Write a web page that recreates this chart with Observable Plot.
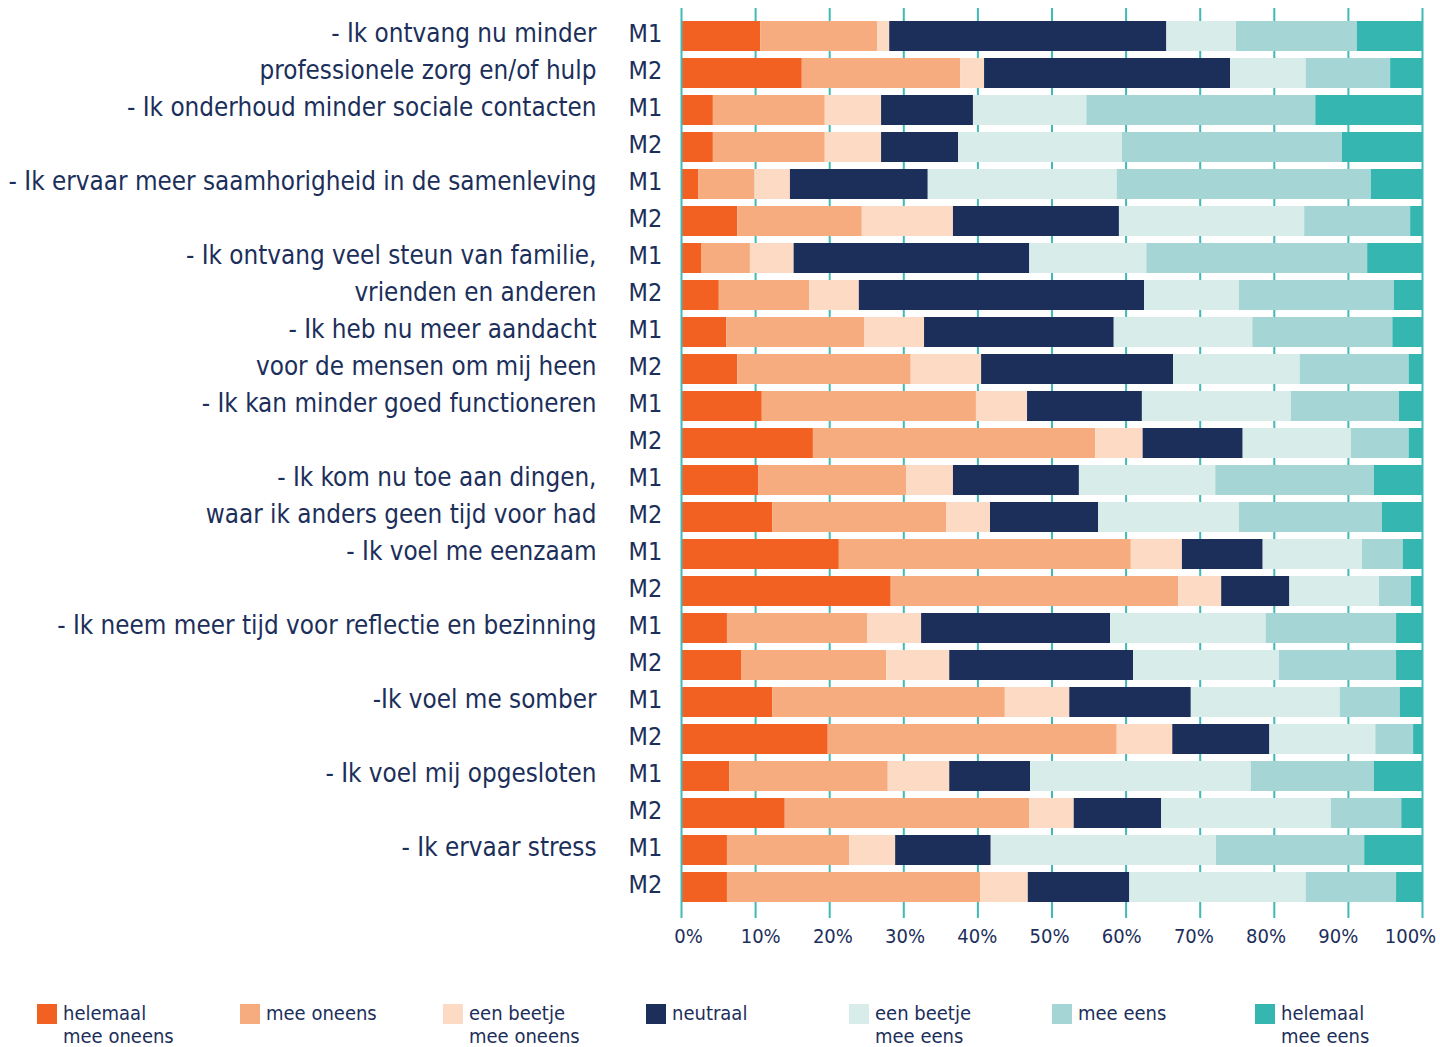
<!DOCTYPE html>
<html>
<head>
<meta charset="utf-8">
<script src="https://cdn.jsdelivr.net/npm/d3@7"></script>
<script src="https://cdn.jsdelivr.net/npm/@observablehq/plot@0.6"></script>
<style>
  html, body { margin: 0; padding: 0; background: #fff; }
  body { width: 1440px; height: 1047px; overflow: hidden; font-family: "DejaVu Sans Condensed", "DejaVu Sans", sans-serif; font-stretch: condensed; color: #1c2f5a; }
  #legend { position: relative; height: 87px; }
  .item { position: absolute; top: 44px; width: 200px; height: 43px; }
  .sw { position: absolute; left: 0; top: 0; width: 20px; height: 20px; }
  .ln { position: absolute; left: 26px; font-size: 20px; line-height: 22px; white-space: nowrap; color: #1c2f5a; }
</style>
</head>
<body>
<div id="chart"></div>
<div id="legend"></div>
<script>
// ---- data ----
const categories = ["helemaal mee oneens", "mee oneens", "een beetje mee oneens", "neutraal", "een beetje mee eens", "mee eens", "helemaal mee eens"];
const legendLines = [["helemaal", "mee oneens"], ["mee oneens"], ["een beetje", "mee oneens"], ["neutraal"], ["een beetje", "mee eens"], ["mee eens"], ["helemaal", "mee eens"]];
const colors = ["#f26122", "#f7ac80", "#fddac4", "#1c2f5a", "#d8ecea", "#a5d6d5", "#35b6b1"];
const moments = ["M1", "M2"];
const labelsM1 = ["- Ik ontvang nu minder", "- Ik onderhoud minder sociale contacten", "- Ik ervaar meer saamhorigheid in de samenleving", "- Ik ontvang veel steun van familie,", "- Ik heb nu meer aandacht", "- Ik kan minder goed functioneren", "- Ik kom nu toe aan dingen,", "- Ik voel me eenzaam", "- Ik neem meer tijd voor reflectie en bezinning", "-Ik voel me somber", "- Ik voel mij opgesloten", "- Ik ervaar stress"];
const labelsM2 = ["professionele zorg en/of hulp", "", "", "vrienden en anderen", "voor de mensen om mij heen", "", "waar ik anders geen tijd voor had", "", "", "", "", ""];

// values per response category, rows: statement 1 M1, statement 1 M2, statement 2 M1, ...
const helemaalOneens = [10.7,16.3,4.3,4.3,2.3,7.6,2.7,5.1,6.1,7.6,10.9,17.8,10.4,12.3,21.3,28.3,6.2,8.1,12.3,19.8,6.5,14.0,6.2,6.2];
const meeOneens      = [15.8,21.4,15.1,15.1,7.6,16.8,6.6,12.2,18.6,23.4,28.9,38.1,20.0,23.5,39.4,38.8,18.9,19.6,31.4,39.0,21.4,33.0,16.5,34.2];
const beetjeOneens   = [1.6,3.2,7.6,7.6,4.8,12.3,5.9,6.7,8.1,9.5,6.9,6.4,6.3,5.9,6.9,5.8,7.3,8.5,8.7,7.5,8.3,6.0,6.2,6.4];
const neutraal       = [37.4,33.2,12.4,10.4,18.6,22.4,31.8,38.5,25.6,25.9,15.5,13.5,17.0,14.6,10.9,9.2,25.5,24.8,16.4,13.1,10.9,11.8,12.9,13.7];
const beetjeEens     = [9.4,10.2,15.3,22.1,25.5,25.0,15.8,12.8,18.7,17.1,20.1,14.6,18.4,19.0,13.4,12.1,21.0,19.7,20.1,14.3,29.8,22.9,30.4,23.8];
const meeEens        = [16.3,11.4,30.9,29.7,34.3,14.3,29.8,20.9,18.9,14.7,14.6,7.8,21.4,19.3,5.5,4.3,17.6,15.8,8.1,5.1,16.6,9.5,20.0,12.2];
const helemaalEens   = [8.8,4.3,14.4,10.8,6.9,1.6,7.4,3.8,4.0,1.8,3.1,1.8,6.5,5.4,2.6,1.5,3.5,3.5,3.0,1.2,6.5,2.8,7.8,3.5];
const xTicks = [0, 0.1, 0.2, 0.3, 0.4, 0.5, 0.6, 0.7, 0.8, 0.9, 1];

// ---- build tidy table ----
const series = [helemaalOneens, meeOneens, beetjeOneens, neutraal, beetjeEens, meeEens, helemaalEens];
const rows = [];
labelsM1.forEach((l, i) => moments.forEach((m, j) => rows.push({key: `${i}-${m}`, idx: i * 2 + j, moment: m, label: j === 0 ? l : labelsM2[i]})));
const data = [];
rows.forEach(r => categories.forEach((c, k) => data.push({key: r.key, cat: c, value: series[k][r.idx]})));

const navy = "#1c2f5a";
const chart = Plot.plot({
  width: 1440,
  height: 960,
  marginLeft: 681,
  marginRight: 18,
  marginTop: 8,
  marginBottom: 42,
  style: {fontFamily: '"DejaVu Sans Condensed", "DejaVu Sans", sans-serif', fontStretch: "condensed", color: navy, background: "#fff"},
  x: {domain: [0, 1], ticks: xTicks},
  y: {domain: rows.map(r => r.key), range: [13, 909], padding: 0.19, axis: null},
  color: {domain: categories, range: colors},
  marks: [
    Plot.ruleX(xTicks.slice(1), {stroke: "#3fbab4", strokeWidth: 2}),
    Plot.barX(data, Plot.stackX({x: "value", y: "key", fill: "cat", offset: "normalize"})),
    Plot.ruleX([0], {stroke: "#3fbab4", strokeWidth: 2}),
    Plot.axisX({ticks: xTicks, tickFormat: d3.format(".0%"), tickSize: 0, tickPadding: 10, fontSize: 20, label: null, fill: navy}),
    Plot.text(rows, {y: "key", text: "moment", frameAnchor: "left", textAnchor: "start", dx: -53, dy: -2.5, fontSize: 25, fill: navy}),
    Plot.text(rows, {y: "key", text: "label", frameAnchor: "left", textAnchor: "end", dx: -85, dy: -2.5, fontSize: 25.8, fill: navy})
  ]
});
// tick labels are spread slightly narrower than the gridlines, as in the original
d3.select(chart).selectAll("g[aria-label='x-axis tick label'] text").each(function(d, i) {
  d3.select(this).attr("dx", 7 - 1.9 * i);
});
document.getElementById("chart").appendChild(chart);

// ---- legend ----
const legend = document.getElementById("legend");
categories.forEach((c, k) => {
  const it = document.createElement("div");
  it.className = "item";
  it.style.left = (37 + k * 203) + "px";
  const sw = document.createElement("div");
  sw.className = "sw";
  sw.style.background = colors[k];
  it.appendChild(sw);
  legendLines[k].forEach((t, j) => {
    const ln = document.createElement("div");
    ln.className = "ln";
    ln.style.top = (-2 + j * 23) + "px";
    ln.textContent = t;
    it.appendChild(ln);
  });
  legend.appendChild(it);
});
</script>
</body>
</html>
